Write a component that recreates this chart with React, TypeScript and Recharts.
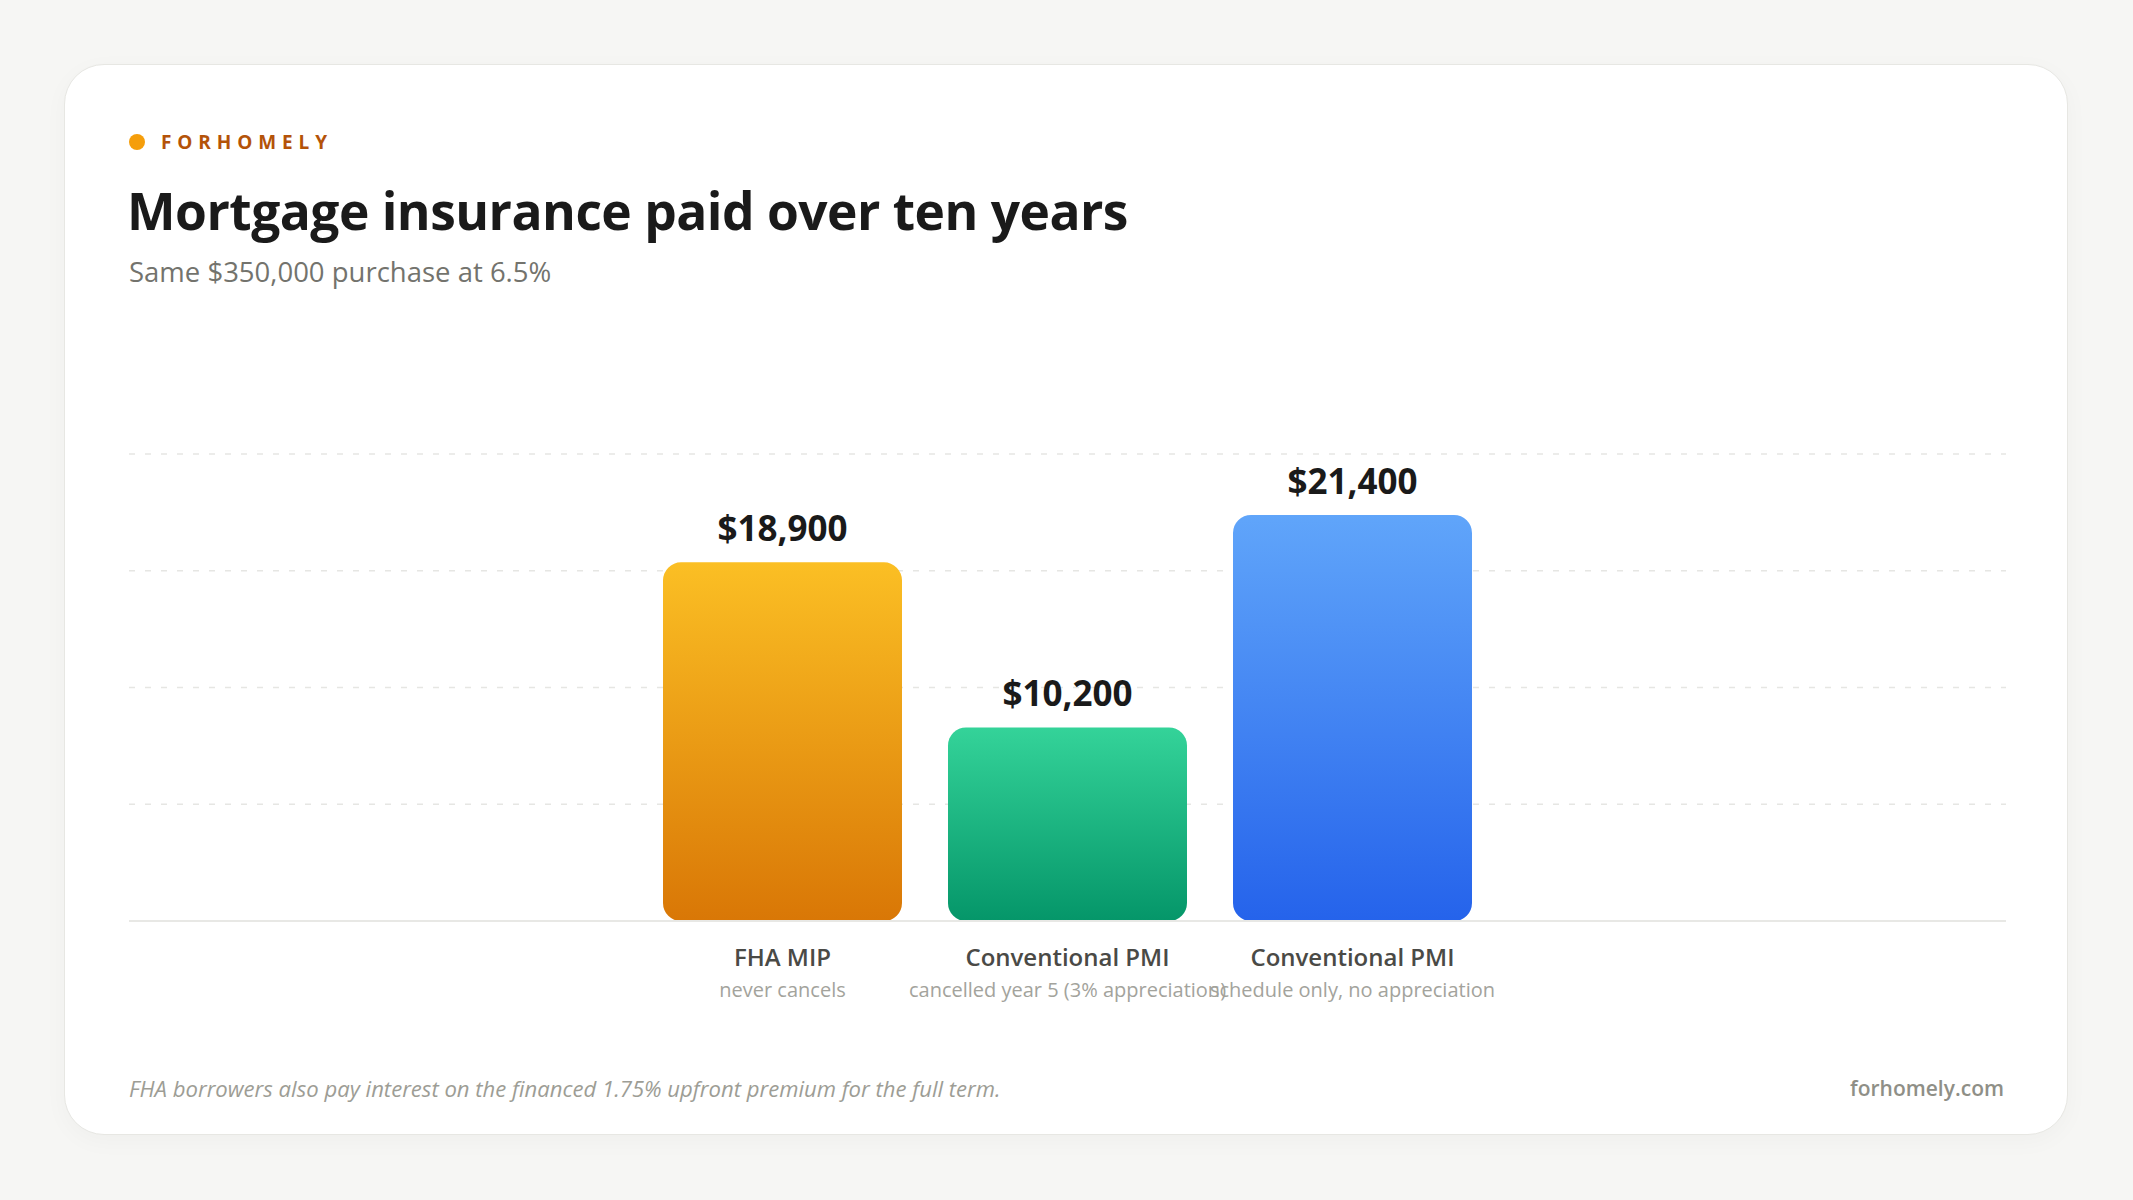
import { BarChart, Bar, XAxis, YAxis, CartesianGrid, Cell, LabelList } from "recharts";

const categories = ["FHA MIP", "Conventional PMI", "Conventional PMI"];
const subLabels = [
  "never cancels",
  "cancelled year 5 (3% appreciation)",
  "schedule only, no appreciation",
];
const totals = [18900, 10200, 21400];
const gradients = [
  ["#fbbf24", "#d97706"],
  ["#34d399", "#059669"],
  ["#60a5fa", "#2563eb"],
];

const data = categories.map((name, i) => ({ name, sub: subLabels[i], value: totals[i] }));
const yMax = Math.max(...totals) * 1.15;
const yTicks = [0, 1, 2, 3, 4].map((i) => (yMax * i) / 4);

const FONT = '"Open Sans", "Noto Sans", sans-serif';

function TwoLineTick({ x, y, payload }: any) {
  const i = payload.index;
  return (
    <g>
      <text x={x} y={y + 37} textAnchor="middle" fill="#4a4a46" fontSize={24} fontWeight={600} fontFamily={FONT}>
        {categories[i]}
      </text>
      <text x={x} y={y + 68} textAnchor="middle" fill="#a3a39c" fontSize={20} fontFamily={FONT}>
        {subLabels[i]}
      </text>
    </g>
  );
}

export default function App() {
  return (
    <div
      style={{
        position: "absolute",
        left: 0,
        top: 0,
        width: 2133,
        height: 1200,
        background: "#f6f6f4",
        fontFamily: FONT,
      }}
    >
      <div
        style={{
          position: "absolute",
          left: 64,
          top: 64,
          width: 2004,
          height: 1071,
          background: "#fff",
          borderRadius: 40,
          border: "1px solid #e7e7e3",
          boxSizing: "border-box",
          boxShadow: "0 6px 24px rgba(0,0,0,0.03)",
        }}
      >
        {/* brand */}
        <div style={{ position: "absolute", left: 64, top: 69, width: 16, height: 16, borderRadius: 8, background: "#f59e0b" }} />
        <div
          style={{
            position: "absolute",
            left: 96,
            top: 65,
            fontSize: 19,
            lineHeight: "24px",
            fontWeight: 700,
            letterSpacing: "0.31em",
            color: "#b45309",
          }}
        >
          FORHOMELY
        </div>

        {/* title */}
        <div
          style={{
            position: "absolute",
            left: 62,
            top: 115,
            fontSize: 51.5,
            lineHeight: "60px",
            fontWeight: 700,
            color: "#1a1a1a",
            letterSpacing: "-0.01em",
          }}
        >
          Mortgage insurance paid over ten years
        </div>
        <div
          style={{
            position: "absolute",
            left: 64,
            top: 189,
            fontSize: 27.5,
            lineHeight: "36px",
            color: "#73736d",
          }}
        >
          Same $350,000 purchase at 6.5%
        </div>

        {/* chart */}
        <div style={{ position: "absolute", left: 64, top: 336 }}>
          <BarChart width={1877} height={610} data={data} margin={{ top: 53, right: 0, left: 0, bottom: 0 }}>
            <defs>
              {gradients.map(([top, bottom], i) => (
                <linearGradient key={i} id={`grad${i}`} x1="0" y1="0" x2="0" y2="1">
                  <stop offset="0%" stopColor={top} />
                  <stop offset="100%" stopColor={bottom} />
                </linearGradient>
              ))}
            </defs>
            <CartesianGrid vertical={false} stroke="#e6e6e3" strokeDasharray="6 10" strokeWidth={1.5} />
            <XAxis
              dataKey="name"
              height={90}
              padding={{ left: 511, right: 511 }}
              axisLine={{ stroke: "#e8e8e5", strokeWidth: 2 }}
              tickLine={false}
              interval={0}
              tick={<TwoLineTick />}
            />
            <YAxis hide domain={[0, yMax]} ticks={yTicks} />
            <Bar dataKey="value" barSize={239} radius={[18, 18, 18, 18]} isAnimationActive={false}>
              {data.map((_, i) => (
                <Cell key={i} fill={`url(#grad${i})`} />
              ))}
              <LabelList
                dataKey="value"
                position="top"
                offset={21}
                formatter={(v: any) => "$" + Number(v).toLocaleString("en-US")}
                style={{ fontSize: 35, fontWeight: 700, fill: "#1a1a1a", fontFamily: FONT }}
              />
            </Bar>
          </BarChart>
        </div>

        {/* footer */}
        <div
          style={{
            position: "absolute",
            left: 64,
            top: 1008,
            fontSize: 22.1,
            lineHeight: "30px",
            fontStyle: "italic",
            color: "#9d9d95",
          }}
        >
          FHA borrowers also pay interest on the financed 1.75% upfront premium for the full term.
        </div>
        <div
          style={{
            position: "absolute",
            right: 63,
            top: 1008,
            fontSize: 21,
            lineHeight: "30px",
            fontWeight: 600,
            color: "#8f8f87",
          }}
        >
          forhomely.com
        </div>
      </div>
    </div>
  );
}
